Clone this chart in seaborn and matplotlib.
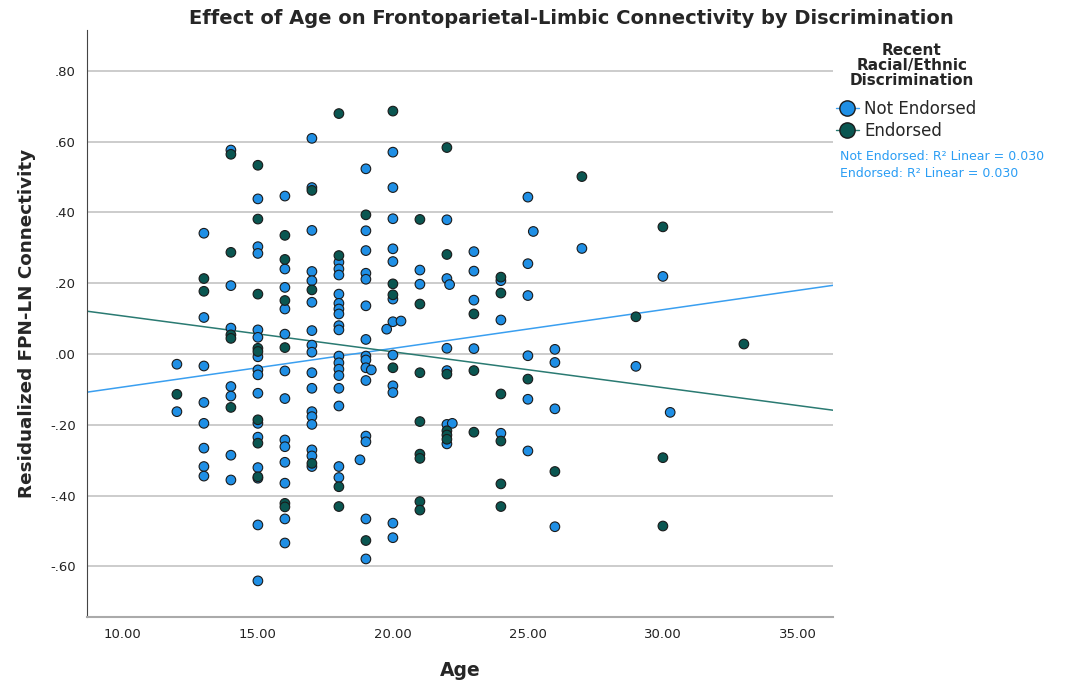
import matplotlib
matplotlib.use("Agg")
import matplotlib.pyplot as plt
from matplotlib.lines import Line2D
from matplotlib.ticker import FuncFormatter
import seaborn as sns
import pandas as pd
import numpy as np

# ---- data ----
not_age = ([12]*2 + [13]*8 + [14]*7 + [15]*15 + [16]*13 + [17]*17 + [18]*17 + [19]*15
           + [19.2, 18.78, 19.77] + [20]*11 + [20.3] + [21]*2 + [22]*5 + [22.1, 22.2]
           + [23]*4 + [24]*3 + [25]*6 + [25.2] + [26]*4 + [27, 29, 30, 30.27]
           + [20, 22])
not_val = ([-0.029, -0.163]
           + [0.341, 0.103, -0.034, -0.137, -0.196, -0.266, -0.318, -0.345]
           + [0.576, 0.193, 0.073, -0.092, -0.119, -0.286, -0.356]
           + [0.438, 0.303, 0.284, 0.068, 0.047, -0.008, -0.045, -0.059, -0.111, -0.196,
              -0.235, -0.321, -0.351, -0.483, -0.641]
           + [0.446, 0.240, 0.188, 0.127, 0.056, -0.048, -0.126, -0.243, -0.262, -0.306,
              -0.365, -0.466, -0.534]
           + [0.609, 0.470, 0.349, 0.233, 0.207, 0.146, 0.066, 0.025, 0.005, -0.053,
              -0.097, -0.163, -0.177, -0.199, -0.271, -0.288, -0.318]
           + [0.259, 0.240, 0.223, 0.169, 0.143, 0.127, 0.113, 0.080, 0.068, -0.006,
              -0.025, -0.043, -0.061, -0.097, -0.147, -0.318, -0.349]
           + [0.523, 0.348, 0.292, 0.228, 0.211, 0.136, 0.041, -0.006, -0.017, -0.039,
              -0.075, -0.232, -0.248, -0.466, -0.579]
           + [-0.045, -0.299, 0.070]
           + [0.570, 0.470, 0.382, 0.297, 0.261, 0.155, 0.091, -0.003, -0.090, -0.109,
              -0.478]
           + [0.093]
           + [0.237, 0.197]
           + [0.379, 0.213, 0.016, -0.047, -0.199]
           + [0.196, -0.196]
           + [0.289, 0.234, 0.152, 0.015]
           + [0.207, 0.096, -0.224]
           + [0.443, 0.255, 0.165, -0.005, -0.128, -0.274]
           + [0.346]
           + [0.013, -0.024, -0.155, -0.488]
           + [0.298, -0.035, 0.219, -0.165]
           + [-0.519, -0.254])

end_age = ([12] + [13]*2 + [14]*5 + [15]*8 + [16]*6 + [17]*3 + [18]*4 + [19]*2
           + [20]*4 + [21]*8 + [22]*6 + [23]*3 + [24]*6 + [25, 26, 27, 29]
           + [30]*3 + [33])
end_val = ([-0.114]
           + [0.213, 0.177]
           + [0.564, 0.287, 0.054, 0.044, -0.151]
           + [0.533, 0.381, 0.169, 0.016, 0.007, -0.186, -0.252, -0.347]
           + [0.335, 0.267, 0.151, 0.018, -0.422, -0.432]
           + [0.462, 0.181, -0.309]
           + [0.679, 0.278, -0.375, -0.431]
           + [0.393, -0.527]
           + [0.686, 0.198, 0.167, -0.039]
           + [0.380, 0.141, -0.053, -0.191, -0.283, -0.295, -0.417, -0.441]
           + [0.583, 0.281, -0.057, -0.217, -0.229, -0.241]
           + [0.113, -0.047, -0.221]
           + [0.217, 0.172, -0.113, -0.246, -0.367, -0.431]
           + [-0.071, -0.332, 0.501, 0.105]
           + [0.359, -0.293, -0.486]
           + [0.028])

groups = ["Not Endorsed", "Endorsed"]
r2_text = ["Not Endorsed: R\u00b2 Linear = 0.030", "Endorsed: R\u00b2 Linear = 0.030"]

df = pd.DataFrame({
    "Age": not_age + end_age,
    "FPN": not_val + end_val,
    "Group": [groups[0]] * len(not_age) + [groups[1]] * len(end_age),
})

colors = {"Not Endorsed": "#1f8fe5", "Endorsed": "#0a5651"}
line_colors = {"Not Endorsed": "#3a9ff0", "Endorsed": "#2a7a72"}

sns.set_style("white")
plt.rcParams["font.family"] = ["DejaVu Sans"]

fig = plt.figure(figsize=(10.7, 6.87), dpi=100)
ax = fig.add_axes([0.0813, 0.1019, 0.6972, 0.8544])
ax.set_xlim(8.67, 36.3)
ax.set_ylim(-0.743, 0.915)

for y in np.arange(-0.6, 0.81, 0.2):
    ax.axhline(y, color="#c8c8c8", lw=1.3, zorder=0)

for g in groups:
    sub = df[df["Group"] == g]
    sns.regplot(data=sub, x="Age", y="FPN", ax=ax, ci=None, truncate=False,
                scatter=False, line_kws={"color": line_colors[g], "lw": 1.1, "zorder": 2})
sns.scatterplot(data=df, x="Age", y="FPN", hue="Group", palette=colors,
                hue_order=groups, ax=ax, s=48, edgecolor="#1a1a1a", linewidth=0.8,
                legend=False, zorder=3)

ax.set_xticks([10, 15, 20, 25, 30, 35])
ax.set_yticks(np.round(np.arange(-0.6, 0.81, 0.2), 1))
ax.xaxis.set_major_formatter(FuncFormatter(lambda v, p: f"{v:.2f}"))
def yfmt(v, p):
    s = f"{v:.2f}"
    return s.replace("0.", ".")
ax.yaxis.set_major_formatter(FuncFormatter(yfmt))
ax.tick_params(axis="both", length=0, labelsize=9.5, colors="#222222", pad=8)

for side in ["top", "right"]:
    ax.spines[side].set_visible(False)
ax.spines["left"].set_color("#444444")
ax.spines["bottom"].set_color("#aaaaaa")
ax.spines["bottom"].set_linewidth(1.5)

ax.set_xlabel("Age", fontsize=13.5, fontweight="bold", labelpad=14)
ax.set_ylabel("Residualized FPN-LN Connectivity", fontsize=13.2, fontweight="bold", labelpad=10)

fig.text(0.534, 0.973, "Effect of Age on Frontoparietal-Limbic Connectivity by Discrimination",
         ha="center", va="center", fontsize=14, fontweight="bold")

fig.text(0.852, 0.905, "Recent\nRacial/Ethnic\nDiscrimination", ha="center", va="center",
         fontsize=11, fontweight="bold", linespacing=1.0)

handles = [Line2D([0], [0], marker="o", color=line_colors[g], lw=1, markersize=11,
                  markerfacecolor=colors[g], markeredgecolor="#1a1a1a") for g in groups]
fig.legend(handles, groups, loc="upper left", bbox_to_anchor=(0.781, 0.855),
           frameon=False, fontsize=12, handlelength=1.4, handletextpad=0.3,
           labelspacing=0.25, borderaxespad=0, borderpad=0)

fig.text(0.785, 0.772, r2_text[0], ha="left", va="center", fontsize=9, color="#2a9df4")
fig.text(0.785, 0.747, r2_text[1], ha="left", va="center", fontsize=9, color="#2a9df4")

fig.savefig("out.png", dpi=100)
